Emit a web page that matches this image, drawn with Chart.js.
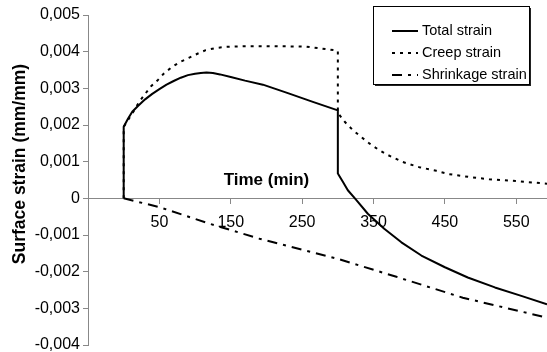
<!DOCTYPE html>
<html>
<head>
<meta charset="utf-8">
<script src="https://cdn.jsdelivr.net/npm/chart.js@4.4.0/dist/chart.umd.min.js"></script>
<style>
  body { margin: 0; background: #fff; }
  #wrap { width: 547px; height: 352px; position: relative; }
</style>
</head>
<body>
<div id="wrap"><canvas id="strainChart"></canvas></div>
<script>
// values: time in min, strain in mm/mm
const totalTime   = [0, 0, 6, 12, 20, 30, 40, 50, 60, 70, 80, 90, 100, 108, 116, 125, 135, 150, 170, 195, 230, 265, 300,
                     300, 307, 314, 326, 342, 365, 389, 417, 450, 482, 520, 557, 593];
const totalStrain = [0, 0.00195, 0.00217, 0.00236, 0.00252, 0.0027, 0.00285, 0.00298, 0.0031, 0.0032, 0.00329, 0.00336, 0.0034, 0.00342, 0.00343, 0.00342, 0.00338, 0.00331, 0.00321, 0.0031, 0.00287, 0.00263, 0.0024,
                     0.00068, 0.00045, 0.00022, -0.00005, -0.00042, -0.00083, -0.0012, -0.00156, -0.00188, -0.00216, -0.00243, -0.00266, -0.00289];

const creepTime   = [0, 0, 15, 22, 29, 38, 48, 57, 69, 79, 92, 104, 115, 129, 143, 170, 200, 255, 295, 300,
                     300, 310, 321, 333, 344, 356, 368, 391, 414, 438, 456, 485, 512, 550, 593];
const creepStrain = [0, 0.00195, 0.00241, 0.00264, 0.00282, 0.00305, 0.00323, 0.00342, 0.0036, 0.00372, 0.00384, 0.00395, 0.00404, 0.0041, 0.00413, 0.00415, 0.00415, 0.00414, 0.00404, 0.00402,
                     0.00233, 0.00208, 0.00186, 0.00167, 0.0015, 0.00134, 0.0012, 0.00099, 0.00085, 0.00075, 0.00066, 0.00058, 0.00052, 0.00047, 0.0004];

const shrinkTime   = [0, 50, 120, 190, 300, 382, 475, 592];
const shrinkStrain = [0, -0.00024, -0.00069, -0.0011, -0.00165, -0.00214, -0.00271, -0.00325];

const xTicks = [-50, 50, 150, 250, 350, 450, 550];
const yTicks = [-0.004, -0.003, -0.002, -0.001, 0, 0.001, 0.002, 0.003, 0.004, 0.005];

const FONT = '"Liberation Sans", Arial, sans-serif';

function pts(t, v) {
  return t.map((x, i) => ({ x: x, y: v[i] }));
}

// framed legend with a drop shadow, top right
const boxLegend = {
  id: 'boxLegend',
  afterDraw(chart) {
    const ctx = chart.ctx;
    const x0 = 373, y0 = 6, w = 156, h = 78;
    ctx.save();
    ctx.fillStyle = '#222';
    ctx.fillRect(x0 + 2, y0 + 2, w, h);
    ctx.fillStyle = '#fff';
    ctx.fillRect(x0, y0, w, h);
    ctx.strokeStyle = '#000';
    ctx.lineWidth = 1;
    ctx.strokeRect(x0 + 0.5, y0 + 0.5, w, h);
    chart.data.datasets.forEach((ds, i) => {
      const y = y0 + 25 + i * 22;
      ctx.setLineDash(ds.borderDash || []);
      ctx.lineWidth = 2;
      ctx.strokeStyle = ds.borderColor;
      ctx.beginPath();
      ctx.moveTo(392, y);
      ctx.lineTo(418, y);
      ctx.stroke();
      ctx.setLineDash([]);
      ctx.fillStyle = '#000';
      ctx.font = '14.5px ' + FONT;
      ctx.textBaseline = 'middle';
      ctx.textAlign = 'left';
      ctx.fillText(ds.label, 422, y);
    });
    ctx.restore();
  }
};

// axis titles: "Time (min)" sits just above the zero line
const axisTitles = {
  id: 'axisTitles',
  afterDraw(chart) {
    const ctx = chart.ctx;
    const xs = chart.scales.x, ys = chart.scales.y;
    ctx.save();
    ctx.fillStyle = '#000';
    ctx.font = 'bold 17px ' + FONT;
    ctx.textAlign = 'center';
    ctx.textBaseline = 'alphabetic';
    ctx.fillText('Time (min)', xs.getPixelForValue(200), ys.getPixelForValue(0) - 13);

    ctx.translate(25, 164);
    ctx.rotate(-Math.PI / 2);
    ctx.font = 'bold 17.5px ' + FONT;
    ctx.fillText('Surface strain (mm/mm)', 0, 0);
    ctx.restore();
  }
};

new Chart('strainChart', {
  type: 'line',
  data: {
    datasets: [
      { label: 'Total strain', data: pts(totalTime, totalStrain), borderColor: '#000', borderWidth: 2, borderDash: [] },
      { label: 'Creep strain', data: pts(creepTime, creepStrain), borderColor: '#000', borderWidth: 2, borderDash: [3, 5] },
      { label: 'Shrinkage strain', data: pts(shrinkTime, shrinkStrain), borderColor: '#000', borderWidth: 2, borderDash: [10, 6, 3, 6] }
    ]
  },
  options: {
    responsive: true,
    maintainAspectRatio: false,
    animation: false,
    layout: { padding: { top: 15, bottom: 0, left: 0, right: 0 } },
    elements: { point: { radius: 0 }, line: { tension: 0, borderCapStyle: 'butt', borderJoinStyle: 'round' } },
    plugins: { legend: { display: false }, tooltip: { enabled: false } },
    scales: {
      x: {
        type: 'linear',
        position: { y: 0 },
        min: -50,
        max: 593,
        afterBuildTicks: (s) => { s.ticks = xTicks.map(v => ({ value: v })); },
        afterFit: (s) => { s.height = 0; },
        ticks: {
          autoSkip: false, maxRotation: 0, padding: 10,
          color: '#000', font: { family: FONT, size: 16 },
          callback: (v) => (v < 0 ? '' : String(v))
        },
        grid: { drawOnChartArea: false, drawTicks: true, tickLength: 5, color: '#888' },
        border: { display: true, color: '#888', width: 1 }
      },
      y: {
        type: 'linear',
        position: 'left',
        min: -0.004,
        max: 0.005,
        afterBuildTicks: (s) => { s.ticks = yTicks.map(v => ({ value: v })); },
        afterFit: (s) => { s.width = 88; s.paddingBottom = 7; },
        ticks: {
          padding: 3, color: '#000', font: { family: FONT, size: 16 },
          callback: (v) => {
            const r = Math.round(v * 1000) / 1000;
            return r === 0 ? '0' : r.toFixed(3).replace('.', ',');
          }
        },
        grid: { drawOnChartArea: false, drawTicks: true, tickLength: 5, color: '#888' },
        border: { display: true, color: '#888', width: 1 }
      }
    }
  },
  plugins: [boxLegend, axisTitles]
});
</script>
</body>
</html>
